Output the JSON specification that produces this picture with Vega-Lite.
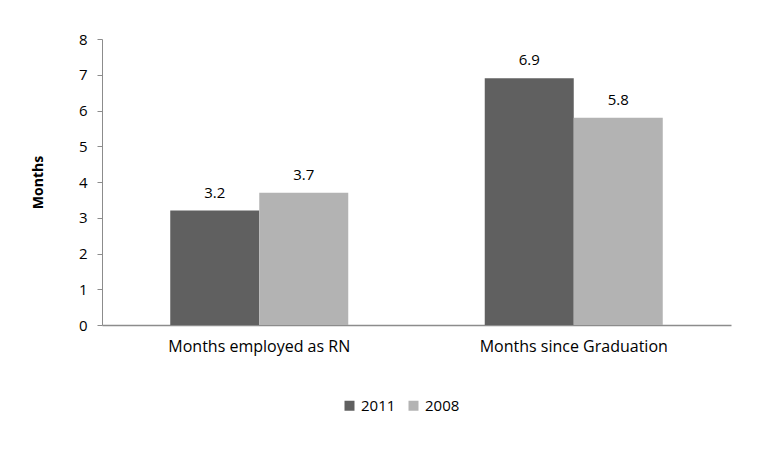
{
  "$schema": "https://vega.github.io/schema/vega-lite/v6.json",
  "width": 629,
  "height": 286,
  "padding": {"left": 31, "top": 32, "right": 5, "bottom": 5},
  "background": "white",
  "config": {
    "view": {"stroke": null},
    "font": "Open Sans"
  },
  "data": {
    "values": [
      {"measure": "Months employed as RN", "year": "2011", "months": 3.2},
      {"measure": "Months employed as RN", "year": "2008", "months": 3.7},
      {"measure": "Months since Graduation", "year": "2011", "months": 6.9},
      {"measure": "Months since Graduation", "year": "2008", "months": 5.8}
    ]
  },
  "encoding": {
    "x": {
      "field": "measure",
      "type": "nominal",
      "sort": null,
      "scale": {"paddingInner": 0.434, "paddingOuter": 0.217},
      "axis": {
        "title": null,
        "labelAngle": 0,
        "labelFontSize": 16,
        "labelLimit": 400,
        "labelColor": "#000000",
        "labelPadding": 13,
        "domainColor": "#8c8c8c",
        "domainWidth": 1.5,
        "ticks": false
      }
    },
    "xOffset": {"field": "year", "type": "nominal", "sort": ["2011", "2008"]},
    "y": {
      "field": "months",
      "type": "quantitative",
      "scale": {"domain": [0, 8]},
      "axis": {
        "title": "Months",
        "titleFontSize": 14,
        "titleFontWeight": "bold",
        "titleColor": "#000000",
        "titlePadding": 33,
        "values": [0, 1, 2, 3, 4, 5, 6, 7, 8],
        "labelOverlap": false,
        "labelFontSize": 15,
        "labelColor": "#000000",
        "labelPadding": 10,
        "grid": false,
        "domainColor": "#8c8c8c",
        "tickColor": "#8c8c8c",
        "tickSize": 5
      }
    }
  },
  "layer": [
    {
      "mark": {"type": "bar"},
      "encoding": {
        "color": {
          "field": "year",
          "type": "nominal",
          "sort": ["2011", "2008"],
          "scale": {"domain": ["2011", "2008"], "range": ["#606060", "#b3b3b3"]},
          "legend": {
            "title": null,
            "orient": "none",
            "direction": "horizontal",
            "legendX": 240,
            "legendY": 359,
            "symbolType": "square",
            "symbolSize": 100,
            "symbolStrokeWidth": 0,
            "labelFontSize": 15,
            "labelColor": "#000000",
            "columnPadding": 10,
            "labelOffset": 4
          }
        }
      }
    },
    {
      "mark": {"type": "text", "dy": -18, "fontSize": 15, "color": "#000000"},
      "encoding": {
        "text": {"field": "months", "type": "quantitative", "format": ".1f"}
      }
    }
  ]
}
